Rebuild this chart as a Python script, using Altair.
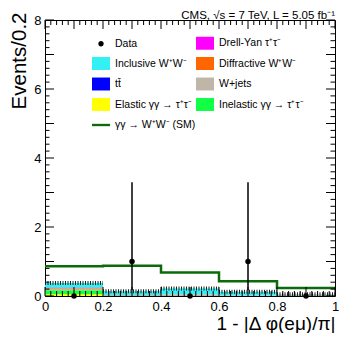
import altair as alt
import pandas as pd
import numpy as np

FONT = "Liberation Sans"

# ---- data ----
bin_lo = [0.0, 0.2, 0.4, 0.6, 0.8]
bin_hi = [0.2, 0.4, 0.6, 0.8, 1.0]

# stacked backgrounds (bottom to top)
elastic_tautau   = [0.05, 0.00, 0.00, 0.00, 0.00]
inelastic_tautau = [0.12, 0.00, 0.00, 0.00, 0.00]
wjets            = [0.05, 0.03, 0.05, 0.02, 0.04]
diffractive_ww   = [0.02, 0.00, 0.00, 0.00, 0.00]
drellyan_tautau  = [0.00, 0.00, 0.00, 0.00, 0.00]
ttbar            = [0.01, 0.00, 0.00, 0.00, 0.00]
inclusive_ww     = [0.13, 0.11, 0.17, 0.10, 0.01]
bkg_unc          = [0.05, 0.03, 0.05, 0.03, 0.02]

sm_ww = [0.86, 0.88, 0.68, 0.43, 0.23]

data_x = [0.1, 0.3, 0.5, 0.7, 0.9]
data_y = [0, 1, 0, 1, 0]
data_err_lo = [0.0, 0.83, 0.0, 0.83, 0.0]
data_err_hi = [0.0, 2.30, 0.0, 2.30, 0.0]

title_text = "CMS, √s = 7 TeV, L = 5.05 fb⁻¹"

# legend entries (listed column by column: left column, then right column)
entries = ["Data", "Inclusive W⁺W⁻", "tt̄", "Elastic γγ → τ⁺τ⁻", "γγ → W⁺W⁻ (SM)",
           "Drell-Yan τ⁺τ⁻", "Diffractive W⁺W⁻", "W+jets", "Inelastic γγ → τ⁺τ⁻"]
entry_colors = ["#000000", "#33F0F5", "#0000FF", "#FFFF00", "#0B6B0B",
                "#FF00FF", "#FF6600", "#C0B6A8", "#11FF44"]
DOT = "M0,-0.3A0.3,0.3,0,1,1,0,0.3A0.3,0.3,0,1,1,0,-0.3Z"
BOX = "M-1,-0.72H1V0.72H-1Z"
LINE = "M-1,-0.13H1V0.13H-1Z"
entry_shapes = [DOT, BOX, BOX, BOX, LINE, BOX, BOX, BOX, BOX]

y_ticks = list(range(0, 9))
x_ticks = [round(i * 0.1, 1) for i in range(11)]
y_minor = [round(i * 0.2, 1) for i in range(41) if i % 5 != 0]
x_minor = [round(i * 0.02, 2) for i in range(51) if i % 5 != 0]

W, H = 290, 276

# ---- tables ----
stack_order = [
    (elastic_tautau, "#FFFF00"),
    (inelastic_tautau, "#11FF44"),
    (wjets, "#C0B6A8"),
    (diffractive_ww, "#FF6600"),
    (drellyan_tautau, "#FF00FF"),
    (ttbar, "#0000FF"),
    (inclusive_ww, "#33F0F5"),
]
rows = []
base = np.zeros(5)
for vals, col in stack_order:
    v = np.array(vals, dtype=float)
    for i in range(5):
        if v[i] > 0:
            rows.append(dict(lo=bin_lo[i], hi=bin_hi[i], y0=base[i], y1=base[i] + v[i], fill=col))
    base = base + v
bars_df = pd.DataFrame(rows)
unc_df = pd.DataFrame(dict(lo=bin_lo, hi=bin_hi, tot=base, err=bkg_unc))
sm_df = pd.DataFrame(dict(x=bin_lo + [bin_hi[-1]], y=sm_ww + [sm_ww[-1]]))
data_df = pd.DataFrame(dict(x=data_x, y=data_y,
                            lo=np.array(data_y) - np.array(data_err_lo),
                            hi=np.array(data_y) + np.array(data_err_hi)))
leg_df = pd.DataFrame(dict(entry=entries))
title_df = pd.DataFrame(dict(t=[title_text]))

xs = alt.Scale(domain=[0, 1], nice=False, zero=False)
ys = alt.Scale(domain=[0, 8], nice=False)

xaxis = alt.Axis(values=x_ticks, format="~g", labelFontSize=13, labelFont=FONT,
                 labelPadding=4, labelFlush=False, labelOverlap=False,
                 title="1 - |Δ φ(eμ)/π|", titleFont=FONT, titleFontSize=19,
                 titleFontWeight="normal", titleAnchor="end", titleAlign="right",
                 titleX=W, titleY=33.5, titleBaseline="alphabetic")
yaxis = alt.Axis(values=y_ticks, format="d", labelFontSize=13, labelFont=FONT,
                 labelPadding=4, labelFlush=False, labelOverlap=False,
                 title="Events/0.2", titleFont=FONT, titleFontSize=20.5,
                 titleFontWeight="normal", titleAngle=-90, titleAlign="right",
                 titleBaseline="bottom", titleX=-16, titleY=-8)

bars = alt.Chart(bars_df).mark_rect().encode(
    x=alt.X("lo:Q", scale=xs, axis=xaxis),
    x2="hi:Q",
    y=alt.Y("y0:Q", scale=ys, axis=yaxis),
    y2="y1:Q",
    fill=alt.Fill("fill:N", scale=None),
)

unc = alt.Chart(unc_df).mark_rule(strokeDash=[1, 1.5], strokeWidth=4, color="#222222").encode(
    x="lo:Q", x2="hi:Q", y="tot:Q")

sm_line = alt.Chart(sm_df).mark_line(interpolate="step-after", color="#0B6B0B", strokeWidth=2.5).encode(
    x="x:Q", y="y:Q")

err = alt.Chart(data_df).mark_rule(color="black", strokeWidth=1.5).encode(
    x="x:Q", y="lo:Q", y2="hi:Q")
pts = alt.Chart(data_df).mark_circle(color="black", size=30, opacity=1).encode(
    x="x:Q", y="y:Q")

leg = alt.Legend(orient="none", legendX=47, legendY=14, columns=2, columnPadding=0,
                 rowPadding=4.5, symbolSize=324, symbolStrokeWidth=0, labelFont=FONT,
                 labelFontSize=10.5, labelColor="black", labelOffset=5, labelLimit=300,
                 padding=0, title=None)
legend_layer = alt.Chart(leg_df).mark_point(filled=True, opacity=1).encode(
    color=alt.Color("entry:N", scale=alt.Scale(domain=entries, range=entry_colors), legend=leg, sort=entries),
    shape=alt.Shape("entry:N", scale=alt.Scale(domain=entries, range=entry_shapes), legend=leg, sort=entries),
).transform_filter("false")

header = alt.Chart(title_df).mark_text(align="right", baseline="alphabetic", fontSize=11.5,
                                       font=FONT, color="black").encode(
    text="t:N", x=alt.value(W), y=alt.value(-1.5))

# ROOT style inward ticks on all four sides
yt_major = pd.DataFrame(dict(v=y_ticks))
yt_minor = pd.DataFrame(dict(v=y_minor))
xt_major = pd.DataFrame(dict(v=x_ticks))
xt_minor = pd.DataFrame(dict(v=x_minor))
tick_layers = []
for df, L in [(yt_major, 9), (yt_minor, 4.5)]:
    tick_layers.append(alt.Chart(df).mark_rule(color="black", strokeWidth=1).encode(
        y="v:Q", x=alt.value(0), x2=alt.value(L)))
    tick_layers.append(alt.Chart(df).mark_rule(color="black", strokeWidth=1).encode(
        y="v:Q", x=alt.value(W - L), x2=alt.value(W)))
for df, L in [(xt_major, 9), (xt_minor, 5)]:
    tick_layers.append(alt.Chart(df).mark_rule(color="black", strokeWidth=1).encode(
        x="v:Q", y=alt.value(H - L), y2=alt.value(H)))
    tick_layers.append(alt.Chart(df).mark_rule(color="black", strokeWidth=1).encode(
        x="v:Q", y=alt.value(0), y2=alt.value(L)))

chart = alt.layer(bars, unc, sm_line, err, pts, legend_layer, header, *tick_layers).properties(
    width=W, height=H,
    autosize=alt.AutoSizeParams(type="none"),
    padding={"left": 37, "top": 12, "right": 10, "bottom": 37},
).configure_view(stroke="black", strokeWidth=1).configure_axis(
    domain=False, ticks=False, grid=False, labelColor="black", titleColor="black")

chart.save("out.html", embed_options={"renderer": "svg", "actions": False})
